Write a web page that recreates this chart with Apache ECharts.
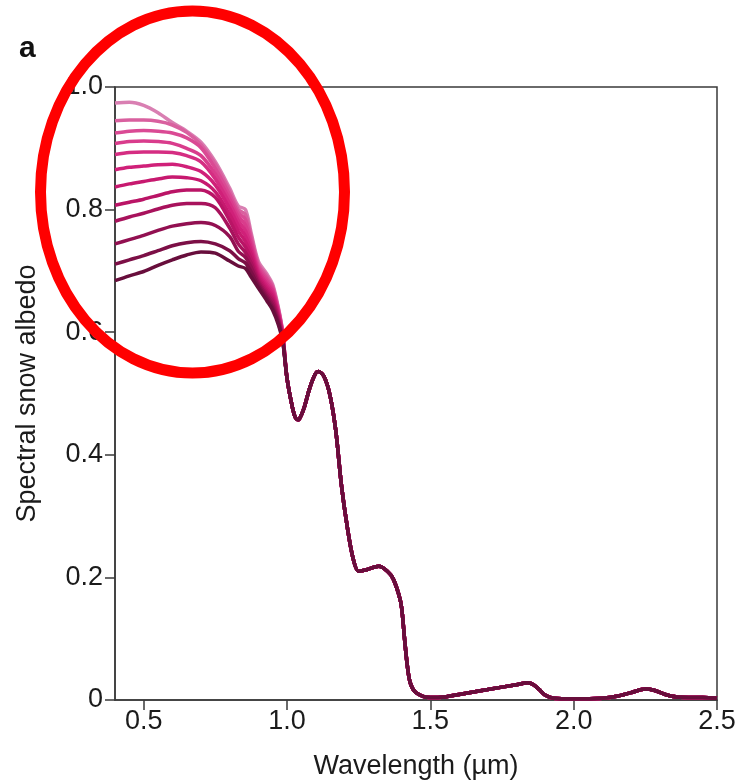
<!DOCTYPE html>
<html>
<head>
<meta charset="utf-8">
<script src="https://cdn.jsdelivr.net/npm/echarts@6/dist/echarts.min.js"></script>
<style>
  html, body { margin: 0; padding: 0; background: #ffffff; }
  #chart { width: 738px; height: 781px; }
</style>
</head>
<body>
<div id="chart"></div>
<script>
// Wavelengths (µm) where the twelve albedo curves still differ
const HEAD_WL = [0.40, 0.45, 0.50, 0.55, 0.60, 0.65, 0.70, 0.75, 0.80, 0.83, 0.855, 0.875, 0.90, 0.93, 0.95, 0.97, 0.985];

// Spectral albedo per curve over HEAD_WL, cleanest snow first
const ALBEDO_01 = [0.974, 0.975, 0.970, 0.958, 0.942, 0.928, 0.910, 0.878, 0.835, 0.806, 0.800, 0.762, 0.716, 0.695, 0.678, 0.640, 0.600];
const ALBEDO_02 = [0.945, 0.946, 0.946, 0.944, 0.938, 0.926, 0.906, 0.874, 0.830, 0.800, 0.792, 0.757, 0.712, 0.691, 0.675, 0.638, 0.599];
const ALBEDO_03 = [0.925, 0.928, 0.929, 0.928, 0.925, 0.917, 0.901, 0.867, 0.824, 0.795, 0.784, 0.751, 0.708, 0.687, 0.672, 0.636, 0.598];
const ALBEDO_04 = [0.908, 0.911, 0.912, 0.911, 0.908, 0.900, 0.888, 0.858, 0.817, 0.789, 0.775, 0.745, 0.704, 0.683, 0.669, 0.634, 0.597];
const ALBEDO_05 = [0.890, 0.893, 0.894, 0.894, 0.893, 0.888, 0.878, 0.850, 0.810, 0.782, 0.766, 0.739, 0.700, 0.679, 0.666, 0.632, 0.596];
const ALBEDO_06 = [0.865, 0.869, 0.871, 0.873, 0.874, 0.870, 0.862, 0.840, 0.802, 0.774, 0.757, 0.733, 0.696, 0.675, 0.662, 0.630, 0.594];
const ALBEDO_07 = [0.837, 0.842, 0.846, 0.850, 0.853, 0.852, 0.847, 0.829, 0.792, 0.765, 0.748, 0.727, 0.692, 0.671, 0.658, 0.627, 0.592];
const ALBEDO_08 = [0.807, 0.812, 0.817, 0.823, 0.829, 0.832, 0.832, 0.820, 0.782, 0.755, 0.739, 0.720, 0.688, 0.667, 0.654, 0.624, 0.590];
const ALBEDO_09 = [0.781, 0.788, 0.794, 0.801, 0.807, 0.810, 0.810, 0.803, 0.770, 0.744, 0.730, 0.713, 0.684, 0.663, 0.650, 0.621, 0.589];
const ALBEDO_10 = [0.744, 0.751, 0.758, 0.766, 0.773, 0.777, 0.779, 0.774, 0.756, 0.732, 0.722, 0.706, 0.680, 0.659, 0.645, 0.618, 0.588];
const ALBEDO_11 = [0.711, 0.718, 0.725, 0.733, 0.741, 0.746, 0.748, 0.744, 0.733, 0.720, 0.713, 0.698, 0.676, 0.655, 0.640, 0.615, 0.586];
const ALBEDO_12 = [0.684, 0.692, 0.699, 0.709, 0.718, 0.726, 0.731, 0.729, 0.716, 0.708, 0.704, 0.690, 0.672, 0.651, 0.636, 0.612, 0.585];

// Beyond ~1 µm all curves coincide
const TAIL_WL = [1.00, 1.02, 1.03, 1.04, 1.05, 1.06, 1.08, 1.10, 1.11, 1.13, 1.15, 1.17, 1.19, 1.21, 1.23, 1.25, 1.28, 1.32, 1.35, 1.37, 1.39, 1.40, 1.41, 1.42, 1.43, 1.45, 1.50, 1.55, 1.60, 1.70, 1.80, 1.84, 1.86, 1.88, 1.90, 1.93, 2.00, 2.10, 2.15, 2.20, 2.25, 2.28, 2.32, 2.36, 2.45, 2.50];
const TAIL_ALBEDO = [0.525, 0.475, 0.460, 0.457, 0.465, 0.477, 0.510, 0.533, 0.536, 0.527, 0.497, 0.440, 0.350, 0.283, 0.232, 0.210, 0.213, 0.218, 0.210, 0.198, 0.172, 0.150, 0.100, 0.055, 0.028, 0.012, 0.004, 0.005, 0.009, 0.017, 0.025, 0.028, 0.025, 0.017, 0.008, 0.003, 0.002, 0.003, 0.006, 0.012, 0.018, 0.016, 0.009, 0.005, 0.004, 0.003];

const CURVES = [ALBEDO_01, ALBEDO_02, ALBEDO_03, ALBEDO_04, ALBEDO_05, ALBEDO_06,
                ALBEDO_07, ALBEDO_08, ALBEDO_09, ALBEDO_10, ALBEDO_11, ALBEDO_12];
const COLORS = ['#d97fb2', '#d9609f', '#da4a94', '#d93c8c', '#d52d82', '#d02079',
                '#c7196f', '#ba1466', '#a8125c', '#921051', '#7c0f46', '#680e3c'];

const X_TICKS = [0.5, 1.0, 1.5, 2.0, 2.5];

const FONT = 'Liberation Sans, Arial, Helvetica, sans-serif';
const AXIS_COLOR = '#3a3a3a';
const TEXT_COLOR = '#1b1b1b';

const chart = echarts.init(document.getElementById('chart'), null, { renderer: 'canvas' });

const series = CURVES.map((vals, i) => ({
  type: 'line',
  name: 'curve ' + (i + 1),
  data: HEAD_WL.map((w, k) => [w, vals[k]]).concat(TAIL_WL.map((w, k) => [w, TAIL_ALBEDO[k]])),
  showSymbol: false,
  smooth: 0.3,
  lineStyle: { color: COLORS[i], width: 3.5 },
  z: 2 + i,
  silent: true
}));

chart.setOption({
  animation: false,
  backgroundColor: '#ffffff',
  grid: { left: 115, right: 21, top: 87, bottom: 81, containLabel: false, outerBoundsMode: 'none',
          show: true, borderColor: AXIS_COLOR, borderWidth: 1.5 },
  xAxis: {
    type: 'value', min: 0.4, max: 2.5,
    name: 'Wavelength (µm)', nameLocation: 'middle', nameGap: 53,
    nameTextStyle: { fontFamily: FONT, fontSize: 27, color: TEXT_COLOR },
    axisLine: { show: true, lineStyle: { color: AXIS_COLOR, width: 1.5 } },
    axisTick: { show: true, inside: false, length: 10, customValues: X_TICKS, lineStyle: { color: AXIS_COLOR, width: 1.5 } },
    axisLabel: { customValues: X_TICKS, margin: 8, fontFamily: FONT, fontSize: 27, color: TEXT_COLOR,
                 formatter: v => v.toFixed(1) },
    splitLine: { show: false }
  },
  yAxis: {
    type: 'value', min: 0, max: 1, interval: 0.2,
    name: 'Spectral snow albedo', nameLocation: 'middle', nameGap: 74,
    nameTextStyle: { fontFamily: FONT, fontSize: 27, color: TEXT_COLOR },
    axisLine: { show: true, lineStyle: { color: AXIS_COLOR, width: 1.5 } },
    axisTick: { show: true, inside: false, length: 10, lineStyle: { color: AXIS_COLOR, width: 1.5 } },
    axisLabel: { margin: 12, fontFamily: FONT, fontSize: 27, color: TEXT_COLOR,
                 formatter: v => (v === 0 ? '0' : v.toFixed(1)) },
    splitLine: { show: false }
  },
  series: series,
  graphic: [
    { type: 'text', left: 19, top: 34, z: 50,
      style: { text: 'a', font: 'bold 30px ' + FONT, fill: '#111111' } },
    { type: 'ellipse', z: 100, silent: true,
      shape: { cx: 192.5, cy: 192, rx: 152, ry: 181 },
      style: { fill: 'none', stroke: '#ff0000', lineWidth: 11 } }
  ]
});
</script>
</body>
</html>
